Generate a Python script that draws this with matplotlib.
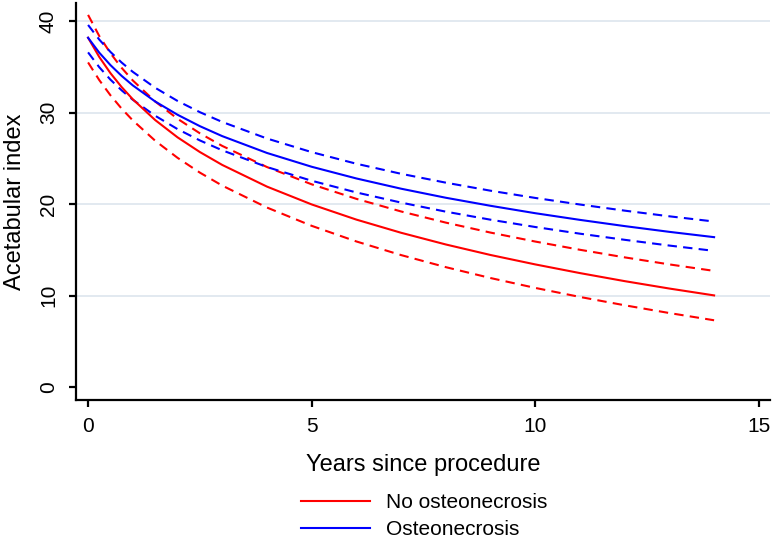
import matplotlib
matplotlib.use("Agg")
import matplotlib.pyplot as plt

plt.rcParams['font.family'] = ['Liberation Sans', 'DejaVu Sans']

# Years since procedure
years = [0, 0.25, 0.5, 0.75, 1, 1.5, 2, 2.5, 3, 4, 5, 6, 7, 8, 9, 10, 11, 12, 13, 14]

# No osteonecrosis: fit and 95% CI
no_on_fit = [38.2, 36.10, 34.33, 32.81, 31.47, 29.20, 27.31, 25.70, 24.29, 21.92,
             19.97, 18.31, 16.87, 15.59, 14.44, 13.41, 12.46, 11.58, 10.77, 10.02]
no_on_upper = [40.7, 38.39, 36.51, 34.91, 33.53, 31.23, 29.34, 27.75, 26.37, 24.06,
               22.17, 20.58, 19.20, 17.98, 16.89, 15.91, 15.01, 14.18, 13.41, 12.70]
no_on_lower = [35.5, 33.57, 31.91, 30.45, 29.16, 26.94, 25.07, 23.45, 22.03, 19.63,
               17.63, 15.92, 14.43, 13.11, 11.92, 10.84, 9.85, 8.94, 8.09, 7.30]

# Osteonecrosis: fit and 95% CI
on_fit = [38.2, 36.57, 35.21, 34.03, 32.99, 31.23, 29.78, 28.53, 27.44, 25.60,
          24.09, 22.81, 21.69, 20.70, 19.82, 19.01, 18.28, 17.60, 16.97, 16.39]
on_upper = [39.6, 38.00, 36.65, 35.49, 34.47, 32.73, 31.29, 30.06, 28.99, 27.18,
            25.69, 24.42, 23.32, 22.35, 21.47, 20.68, 19.96, 19.29, 18.67, 18.10]
on_lower = [36.6, 34.98, 33.62, 32.45, 31.42, 29.67, 28.21, 26.97, 25.89, 24.06,
            22.56, 21.28, 20.17, 19.18, 18.30, 17.50, 16.77, 16.10, 15.47, 14.89]

xticks = [0, 5, 10, 15]
yticks = [0, 10, 20, 30, 40]

red = "#ff0000"
blue = "#0000ff"
dash = (4.5, 3)

fig = plt.figure(figsize=(7.74, 5.38), dpi=100)
ax = fig.add_axes([76 / 774, 1 - 400 / 538, (770 - 76) / 774, (400 - 3) / 538])

for y in [10, 20, 30, 40]:
    ax.axhline(y, color="#dde5ee", lw=1.2, zorder=0)

ax.plot(years, no_on_upper, color=red, lw=1.5, dashes=dash)
ax.plot(years, no_on_lower, color=red, lw=1.5, dashes=dash)
ax.plot(years, on_upper, color=blue, lw=1.5, dashes=dash)
ax.plot(years, on_lower, color=blue, lw=1.5, dashes=dash)
l1, = ax.plot(years, no_on_fit, color=red, lw=1.5, label="No osteonecrosis")
l2, = ax.plot(years, on_fit, color=blue, lw=1.5, label="Osteonecrosis")

ax.set_xlim(-0.27, 15.25)
ax.set_ylim(-1.42, 42.0)
ax.set_xticks(xticks)
ax.set_yticks(yticks)

for side in ["top", "right"]:
    ax.spines[side].set_visible(False)
for side in ["left", "bottom"]:
    ax.spines[side].set_linewidth(1.6)

ax.tick_params(axis="both", width=1.6, length=5, labelsize=15)
ax.tick_params(axis="x", pad=7)
ax.tick_params(axis="y", pad=8)
for lab in ax.get_yticklabels():
    lab.set_rotation(90)
    lab.set_va("center")

ax.set_xlabel("Years since procedure", fontsize=17, labelpad=13)
ax.set_ylabel("Acetabular index", fontsize=17, labelpad=9)

fig.legend(handles=[l1, l2], loc="upper left",
           bbox_to_anchor=(301 / 774, 1 - 493 / 538),
           frameon=False, fontsize=15, handlelength=3.3, handletextpad=0.8,
           labelspacing=0.4, borderpad=0, borderaxespad=0)

fig.savefig("out.png", dpi=100)
